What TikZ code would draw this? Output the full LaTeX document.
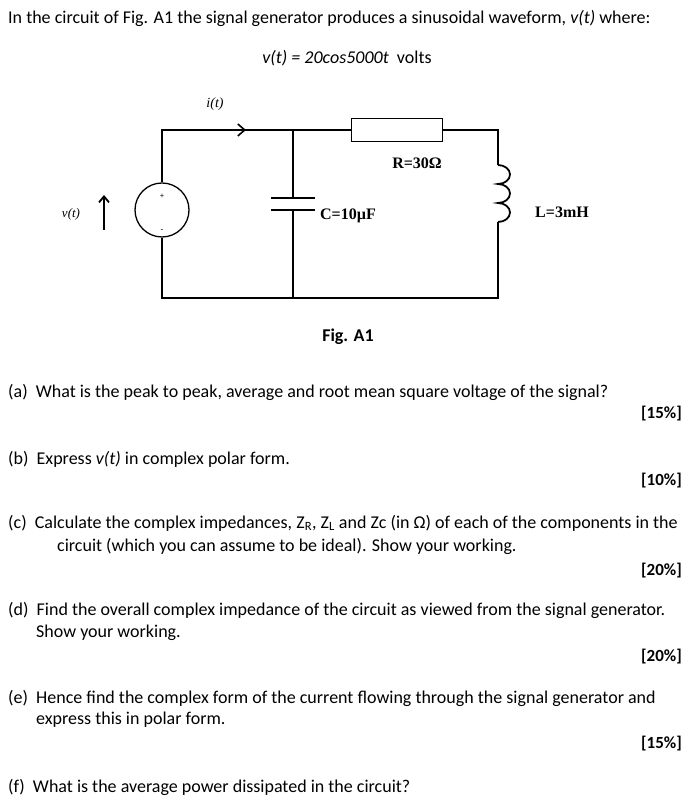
\documentclass[tikz,border=0pt]{standalone}
\usepackage{fontspec}
\setmainfont{Carlito}
\newfontfamily\circfont{Liberation Serif}
\usetikzlibrary{arrows.meta,calc}
\tikzset{
  txt/.style={anchor=west,inner sep=0pt,font=\fontsize{18}{21}\selectfont},
  pct/.style={anchor=east,inner sep=0pt,font=\fontsize{17}{20}\selectfont\bfseries},
  lbl/.style={inner sep=0pt,font=\fontsize{16}{18}\selectfont\circfont\bfseries},
  wire/.style={line width=2pt}
}
\begin{document}
\begin{tikzpicture}[x=1pt,y=1pt]
\useasboundingbox (0,0) rectangle (682,799);

% question text
\node[txt] (intro) at (8,781) {In the circuit of Fig. A1 the signal generator produces a sinusoidal waveform, \textit{v(t)} where:};
\node[txt,anchor=center] (eq) at (347,741) {\textit{v(t) = 20cos5000t}\ \ volts};

% circuit points
\coordinate (tl) at (162,669);
\coordinate (bl) at (162,501);
\coordinate (tc) at (293,669);
\coordinate (bc) at (293,501);
\coordinate (tr) at (498,669);
\coordinate (br) at (498,501);
\coordinate (ltop) at (498,634);
\coordinate (lbot) at (498,577);
\node[circle,draw,line width=1.3pt,minimum size=54pt,inner sep=0pt] (src) at (162,589) {};
\node[draw,line width=1.3pt,minimum width=91pt,minimum height=23pt,inner sep=0pt] (res) at (397,669) {};
\coordinate (cp1) at (293,601);
\coordinate (cp2) at (293,589);

% wires
\draw[wire] (src.north) -- (tl) -- (tc) -- (res.west);
\draw[wire] (res.east) -- (tr) -- (ltop);
\draw[wire] (lbot) -- (br) -- (bl) -- (src.south);
\draw[wire] (tc) -- (cp1);
\draw[wire] (cp2) -- (bc);
\draw[wire] ($(cp1)+(-22,0)$) -- ($(cp1)+(22,0)$);
\draw[wire] ($(cp2)+(-22,0)$) -- ($(cp2)+(22,0)$);
\draw[line width=1.8pt] (ltop) arc[start angle=90,end angle=-90,x radius=12,y radius=9.5]
  arc[start angle=90,end angle=-90,x radius=12,y radius=9.5]
  arc[start angle=90,end angle=-90,x radius=12,y radius=9.5];
\draw[line width=1.6pt,-{Straight Barb[length=7pt,width=12pt]}] (226,669) -- (246,669);
\draw[line width=1.8pt,-{Straight Barb[length=6pt,width=10pt]}] (104,569) -- (104,604);

% labels
\node[inner sep=0pt,font=\fontsize{8}{9}\selectfont] (plus) at (162,603) {+};
\node[inner sep=0pt,font=\fontsize{9}{9}\selectfont] (minus) at (162,568) {-};
\node[inner sep=0pt,font=\fontsize{14}{16}\selectfont\circfont\itshape] (it) at (215,695) {i(t)};
\node[inner sep=0pt,font=\fontsize{13}{15}\selectfont\circfont\itshape] (vt) at (71,585) {v(t)};
\node[lbl] (rl) at (417,636) {R=30Ω};
\node[lbl] (cl) at (348,583) {C=10µF};
\node[lbl] (ll) at (562,587) {L=3mH};
\node[txt,anchor=center,font=\fontsize{18}{21}\selectfont\bfseries] (fig) at (348,462) {Fig. A1};

% parts
\node[txt] (qa) at (8,407) {(a)\ \ What is the peak to peak, average and root mean square voltage of the signal?};
\node[pct] (ma) at (682,385) {[15\%]};
\node[txt] (qb) at (8,340) {(b)\ \ Express \textit{v(t)} in complex polar form.};
\node[pct] (mb) at (682,318) {[10\%]};
\node[txt] (qc) at (8,276) {(c)\ \ Calculate the complex impedances, Z\textsubscript{R}, Z\textsubscript{L} and Zc (in Ω) of each of the components in the};
\node[txt] (qc2) at (57,253) {circuit (which you can assume to be ideal). Show your working.};
\node[pct] (mc) at (682,228) {[20\%]};
\node[txt] (qd) at (8,189) {(d)\ \ Find the overall complex impedance of the circuit as viewed from the signal generator.};
\node[txt] (qd2) at (36,166) {Show your working.};
\node[pct] (md) at (682,142) {[20\%]};
\node[txt] (qe) at (8,101) {(e)\ \ Hence find the complex form of the current flowing through the signal generator and};
\node[txt] (qe2) at (36,79) {express this in polar form.};
\node[pct] (me) at (682,55) {[15\%]};
\node[txt] (qf) at (8,12) {(f)\ \ What is the average power dissipated in the circuit?};
\end{tikzpicture}
\end{document}
